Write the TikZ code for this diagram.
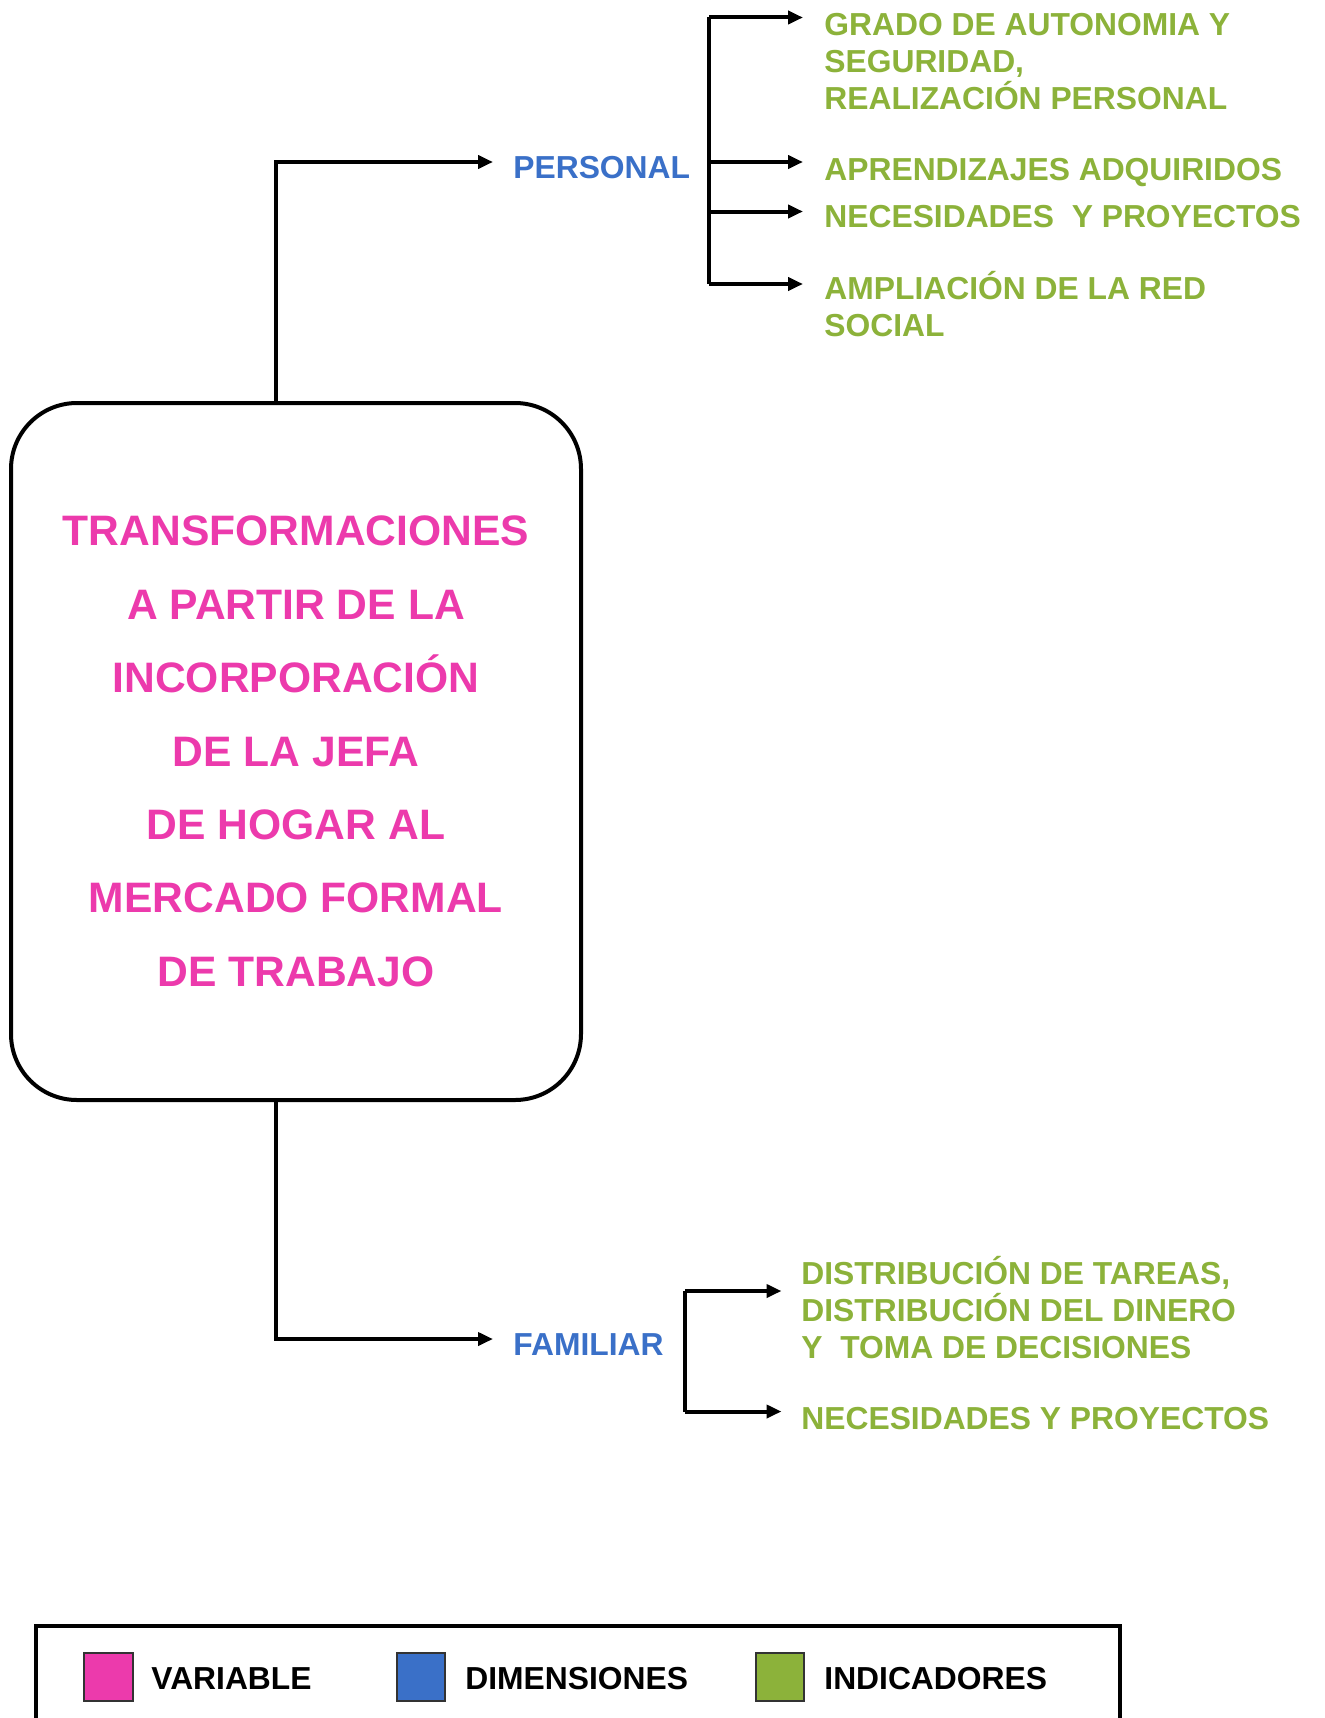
\documentclass[tikz,border=0pt]{standalone}
\usepackage{fontspec}
\setmainfont{Liberation Sans}
\usetikzlibrary{arrows.meta}
\definecolor{varpink}{RGB}{236,58,172}
\definecolor{dimblue}{RGB}{58,112,200}
\definecolor{indgreen}{RGB}{140,178,58}
\tikzset{
  conn/.style={line width=2pt, draw=black},
  arr/.style={conn, -{Triangle[length=7.5pt,width=6.5pt]}},
  varbox/.style={draw=black, line width=2pt, rounded corners=33pt,
    minimum width=285pt, minimum height=348.5pt, align=center,
    text=varpink, font=\bfseries\fontsize{21.3pt}{36.7pt}\selectfont},
  dimtext/.style={text=dimblue, font=\bfseries\fontsize{15.9pt}{18.5pt}\selectfont,
    inner xsep=10pt, inner ysep=0pt, anchor=west},
  indtext/.style={text=indgreen, font=\bfseries\fontsize{15.9pt}{18.5pt}\selectfont,
    inner sep=0pt, anchor=north west, align=left},
  legtext/.style={text=black, font=\bfseries\fontsize{15.9pt}{18.5pt}\selectfont,
    inner sep=0pt, anchor=base west},
  swatch/.style={draw=black!80, line width=1.2pt},
}
\newcommand{\topstrut}{\rule{0pt}{15.5pt}}
\begin{document}
\begin{tikzpicture}[x=0.5pt,y=-0.5pt]
\useasboundingbox (0,0) rectangle (1325,1718);
\fill[white] (0,0) rectangle (1325,1718);

% main variable box
\node[varbox] (var) at (296,751.5) {TRANSFORMACIONES\\A PARTIR DE LA\\INCORPORACIÓN\\DE LA JEFA\\DE HOGAR AL\\MERCADO FORMAL\\DE TRABAJO};

% dimensions
\node[dimtext] (pers) at (493,168) {PERSONAL};
\node[dimtext] (fam) at (493,1345) {FAMILIAR};

\draw[arr] ([xshift=-10pt]var.north) |- ([yshift=3pt]pers.west);
\draw[arr] ([xshift=-10pt]var.south) |- ([yshift=3pt]fam.west);

% personal indicators
\node[indtext] (g1) at (824,4) {\topstrut GRADO DE AUTONOMIA Y\\SEGURIDAD,\\REALIZACIÓN PERSONAL};
\node[indtext] (g2) at (824,149) {\topstrut APRENDIZAJES ADQUIRIDOS};
\node[indtext] (g3) at (824,196) {\topstrut NECESIDADES\ \ Y PROYECTOS};
\node[indtext] (g4) at (824,268) {\topstrut AMPLIACIÓN DE LA RED\\SOCIAL};

\coordinate (pb1) at (709,17.5);
\coordinate (pb2) at (709,162);
\coordinate (pb3) at (709,211.5);
\coordinate (pb4) at (709,284);
\draw[conn] (pb1) -- (pb4);
\draw[arr] (pb1) -- (pb1 -| 803,0);
\draw[arr] (pb2) -- (pb2 -| 803,0);
\draw[arr] (pb3) -- (pb3 -| 803,0);
\draw[arr] (pb4) -- (pb4 -| 803,0);

% familiar indicators
\node[indtext] (f1) at (801,1253.5) {\topstrut DISTRIBUCIÓN DE TAREAS,\\DISTRIBUCIÓN DEL DINERO\\Y\ \ TOMA DE DECISIONES};
\node[indtext] (f2) at (801,1398) {\topstrut NECESIDADES Y PROYECTOS};

\coordinate (fb1) at (685,1291);
\coordinate (fb2) at (685,1411.5);
\draw[conn] (fb1) -- (fb2);
\draw[arr] (fb1) -- (fb1 -| 781.5,0);
\draw[arr] (fb2) -- (fb2 -| 781.5,0);

% legend
\draw[line width=2.2pt] (36,1790) -- (36,1626) -- (1120,1626) -- (1120,1790);
\filldraw[swatch, fill=varpink] (84,1653) rectangle (133,1701);
\filldraw[swatch, fill=dimblue] (397,1653) rectangle (445,1701);
\filldraw[swatch, fill=indgreen] (756,1653) rectangle (804,1701);
\node[legtext] (l1) at (151,1689) {VARIABLE};
\node[legtext] (l2) at (465,1689) {DIMENSIONES};
\node[legtext] (l3) at (824,1689) {INDICADORES};
\end{tikzpicture}
\end{document}
